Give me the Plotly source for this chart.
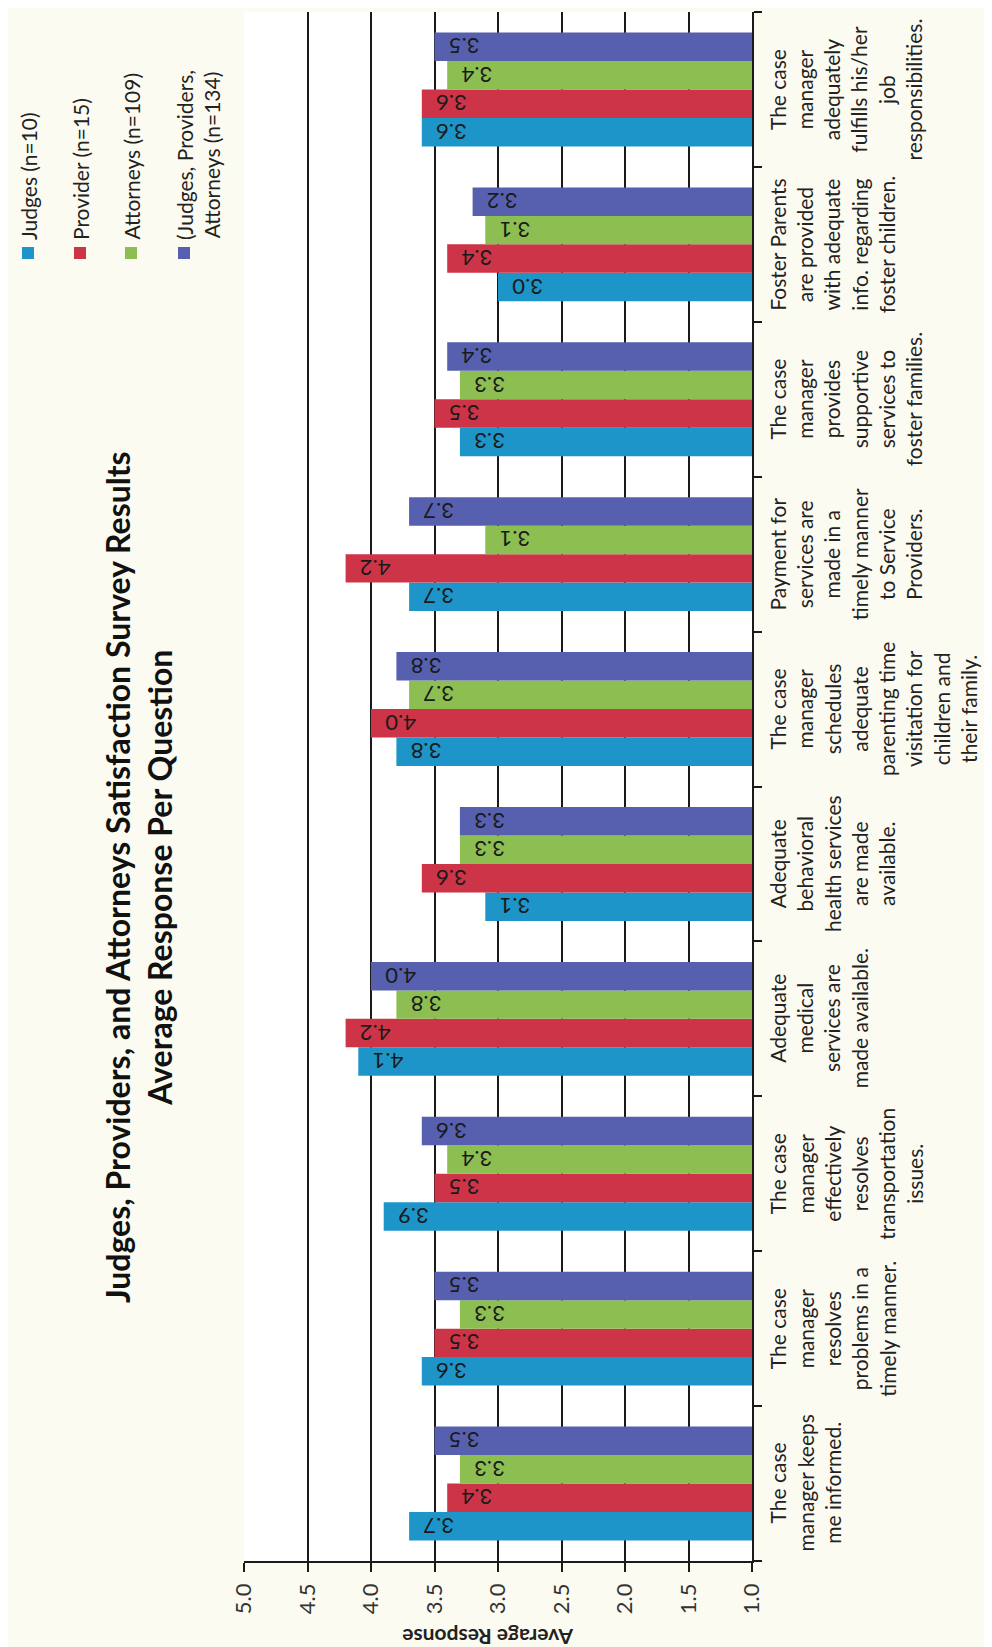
import plotly.graph_objects as go

# ---------------- data ----------------
categories = [
    "The case<br>manager keeps<br>me informed.",
    "The case<br>manager<br>resolves<br>problems in a<br>timely manner.",
    "The case<br>manager<br>effectively<br>resolves<br>transportation<br>issues.",
    "Adequate<br>medical<br>services are<br>made available.",
    "Adequate<br>behavioral<br>health services<br>are made<br>available.",
    "The case<br>manager<br>schedules<br>adequate<br>parenting time<br>visitation for<br>children and<br>their family.",
    "Payment for<br>services are<br>made in a<br>timely manner<br>to Service<br>Providers.",
    "The case<br>manager<br>provides<br>supportive<br>services to<br>foster families.",
    "Foster Parents<br>are provided<br>with adequate<br>info. regarding<br>foster children.",
    "The case<br>manager<br>adequately<br>fulfills his/her<br>job<br>responsibilities.",
]
judges = [3.7, 3.6, 3.9, 4.1, 3.1, 3.8, 3.7, 3.3, 3.0, 3.6]
provider = [3.4, 3.5, 3.5, 4.2, 3.6, 4.0, 4.2, 3.5, 3.4, 3.6]
attorneys = [3.3, 3.3, 3.4, 3.8, 3.3, 3.7, 3.1, 3.3, 3.1, 3.4]
combined = [3.5, 3.5, 3.6, 4.0, 3.3, 3.8, 3.7, 3.4, 3.2, 3.5]

series_names = ["Judges (n=10)", "Provider (n=15)", "Attorneys (n=109)",
                "(Judges, Providers,<br>Attorneys (n=134)"]
series_values = [judges, provider, attorneys, combined]
series_colors = ["#1E95C9", "#CD3447", "#8DBE52", "#5660AE"]

title_text = "<b>Judges, Providers, and Attorneys Satisfaction Survey Results<br>Average Response Per Question</b>"
axis_title = "<b>Average Response</b>"
x_ticks = [5.0, 4.5, 4.0, 3.5, 3.0, 2.5, 2.0, 1.5, 1.0]

# ---------------- geometry helpers ----------------
W, H = 992, 1647
L, R, T, B = 236, 744, 4, 1553  # plot area in pixels


def px2x(px):
    return (px - L) / (R - L)


def py2y(py):
    return (B - py) / (B - T)


FONT = "Lato"
TXT = "#222222"

fig = go.Figure()
for name, vals, col in zip(series_names, series_values, series_colors):
    fig.add_trace(go.Bar(
        y=categories, x=vals, orientation="h", name=name,
        marker=dict(color=col, line=dict(width=0)),
        texttemplate="%{x:.1f}\u00a0\u00a0", textangle=180,
        textposition="inside", insidetextanchor="end",
        constraintext="none",
        textfont=dict(family=FONT, size=22, color="#1a1a1a"),
        showlegend=False, hoverinfo="skip",
    ))

annotations = []
# category labels (rotated)
for i, c in enumerate(categories):
    annotations.append(dict(
        x=px2x(755), xref="paper", y=i, yref="y",
        text=c, textangle=-90, showarrow=False,
        xanchor="left", yanchor="middle", align="center",
        font=dict(family=FONT, size=21, color=TXT),
    ))

# title
annotations.append(dict(
    x=px2x(130), xref="paper", y=py2y(869), yref="paper",
    text=title_text, textangle=-90, showarrow=False,
    xanchor="center", yanchor="middle", align="center",
    font=dict(family=FONT, size=32, color="#111111"),
))

# axis title (upside down)
annotations.append(dict(
    x=px2x(480), xref="paper", y=py2y(1630), yref="paper",
    text=axis_title, textangle=180, showarrow=False,
    xanchor="center", yanchor="middle",
    font=dict(family=FONT, size=21, color=TXT),
))

# legend (rotated)
legend_x = [20, 72, 123, 190]
shapes = []
for lx, name, col in zip(legend_x, series_names, series_colors):
    annotations.append(dict(
        x=px2x(lx), xref="paper", y=py2y(234), yref="paper",
        text=name, textangle=-90, showarrow=False,
        xanchor="center", yanchor="bottom", align="center",
        font=dict(family=FONT, size=21, color=TXT),
    ))
sq_x = [20, 72, 123, 176]
for sx, col in zip(sq_x, series_colors):
    shapes.append(dict(
        type="rect", xref="paper", yref="paper",
        x0=px2x(sx - 6), x1=px2x(sx + 6), y0=py2y(251), y1=py2y(239),
        fillcolor=col, line=dict(width=0),
    ))

fig.update_layout(
    width=W, height=H,
    margin=dict(l=L, r=W - R, t=T, b=H - B, autoexpand=False),
    paper_bgcolor="#FCFBF1", plot_bgcolor="#FFFFFF",
    barmode="group", bargap=0.265, bargroupgap=0,
    annotations=annotations, shapes=shapes,
    xaxis=dict(
        range=[5, 1], tickvals=x_ticks, tickformat=".1f",
        showgrid=True, gridcolor="#1a1a1a", gridwidth=1.5,
        ticks="outside", ticklen=9, tickwidth=1.5, tickcolor="#1a1a1a",
        showline=True, linecolor="#1a1a1a", linewidth=1.5,
        tickangle=-90, zeroline=False, automargin=False,
        tickfont=dict(family=FONT, size=22, color="#333333"),
        ticklabelstandoff=3,
    ),
    yaxis=dict(
        type="category", side="right", showline=True,
        linecolor="#1a1a1a", linewidth=1.5,
        ticks="outside", tickson="boundaries", ticklen=8,
        tickwidth=1.5, tickcolor="#1a1a1a",
        showticklabels=False, showgrid=False, zeroline=False,
        automargin=False,
    ),
)

fig.write_html("out.html")
